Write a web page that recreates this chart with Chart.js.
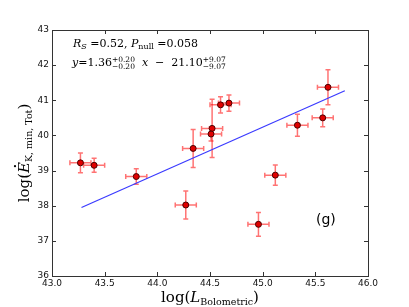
<!DOCTYPE html>
<html>
<head>
<meta charset="utf-8">
<script src="https://cdn.jsdelivr.net/npm/chart.js@4"></script>
<style>
  html, body { margin: 0; padding: 0; background: #fff; }
  #wrap { width: 409px; height: 307px; }
</style>
</head>
<body>
<div id="wrap"><canvas id="plot" width="409" height="307"></canvas></div>
<script>
// Data
const lBol  = [43.27, 43.40, 43.80, 44.27, 44.34, 44.52, 44.51, 44.60, 44.68, 44.96, 45.12, 45.33, 45.57, 45.62];
const eKin  = [39.22, 39.15, 38.83, 38.02, 39.63, 40.20, 40.04, 40.87, 40.92, 37.47, 38.87, 40.29, 40.50, 41.37];
const lErr  = [0.10, 0.10, 0.10, 0.10, 0.10, 0.10, 0.10, 0.10, 0.10, 0.10, 0.10, 0.10, 0.10, 0.10];
const eErr  = [0.28, 0.20, 0.22, 0.40, 0.54, 0.83, 0.20, 0.23, 0.23, 0.34, 0.29, 0.31, 0.25, 0.50];
const fitX  = [43.28, 45.78];
const fitY  = [37.95, 41.27];
const xTicks = [43.0, 43.5, 44.0, 44.5, 45.0, 45.5, 46.0];
const yTicks = [36, 37, 38, 39, 40, 41, 42, 43];

const SERIF = '"DejaVu Serif", serif';

// draws a run of mathtext-ish pieces starting at x, baseline y
function drawMath(ctx, parts, x, y) {
    parts.forEach(p => {
        if (p.stack) {
            ctx.font = p.f;
            ctx.fillText(p.sup, x, y + p.upDy);
            ctx.fillText(p.sub, x, y + p.dnDy);
            x += Math.max(ctx.measureText(p.sup).width, ctx.measureText(p.sub).width);
        } else {
            ctx.font = p.f;
            ctx.fillText(p.t, x, y + (p.dy || 0));
            if (p.dot) {
                const w = ctx.measureText(p.t).width;
                ctx.beginPath();
                ctx.arc(x + w * 0.62, y - 14, 1.1, 0, Math.PI * 2);
                ctx.fill();
            }
            x += ctx.measureText(p.t).width + (p.gap || 0);
        }
    });
    return x;
}
function mathWidth(ctx, parts) {
    let w = 0;
    parts.forEach(p => {
        ctx.font = p.f;
        if (p.stack) w += Math.max(ctx.measureText(p.sup).width, ctx.measureText(p.sub).width);
        else w += ctx.measureText(p.t).width + (p.gap || 0);
    });
    return w;
}

const extras = {
    id: 'extras',
    beforeDatasetsDraw(chart) {
        // error bars
        const ctx = chart.ctx;
        const xs = chart.scales.x, ys = chart.scales.y;
        ctx.save();
        ctx.strokeStyle = 'rgba(255,0,0,0.55)';
        ctx.lineWidth = 1.5;
        const cap = 2.5;
        lBol.forEach((lx, i) => {
            const px = xs.getPixelForValue(lx), py = ys.getPixelForValue(eKin[i]);
            const x0 = xs.getPixelForValue(lx - lErr[i]), x1 = xs.getPixelForValue(lx + lErr[i]);
            const y0 = ys.getPixelForValue(eKin[i] - eErr[i]), y1 = ys.getPixelForValue(eKin[i] + eErr[i]);
            ctx.beginPath();
            ctx.moveTo(x0, py); ctx.lineTo(x1, py);
            ctx.moveTo(px, y0); ctx.lineTo(px, y1);
            ctx.moveTo(x0, py - cap); ctx.lineTo(x0, py + cap);
            ctx.moveTo(x1, py - cap); ctx.lineTo(x1, py + cap);
            ctx.moveTo(px - cap, y0); ctx.lineTo(px + cap, y0);
            ctx.moveTo(px - cap, y1); ctx.lineTo(px + cap, y1);
            ctx.stroke();
        });
        ctx.restore();
    },
    afterDraw(chart) {
        const ctx = chart.ctx;
        const a = chart.chartArea;
        const xs = chart.scales.x, ys = chart.scales.y;
        ctx.save();
        // frame
        ctx.strokeStyle = '#333';
        ctx.lineWidth = 1;
        ctx.strokeRect(Math.round(a.left) + 0.5, Math.round(a.top) + 0.5,
                       Math.round(a.right - a.left), Math.round(a.bottom - a.top));
        // inward ticks on all four sides
        ctx.beginPath();
        xTicks.forEach(v => {
            const p = Math.round(xs.getPixelForValue(v)) + 0.5;
            ctx.moveTo(p, a.bottom); ctx.lineTo(p, a.bottom - 4);
            ctx.moveTo(p, a.top); ctx.lineTo(p, a.top + 4);
        });
        yTicks.forEach(v => {
            const p = Math.round(ys.getPixelForValue(v)) + 0.5;
            ctx.moveTo(a.left, p); ctx.lineTo(a.left + 4, p);
            ctx.moveTo(a.right, p); ctx.lineTo(a.right - 4, p);
        });
        ctx.stroke();

        ctx.fillStyle = '#000';
        ctx.textBaseline = 'alphabetic';
        ctx.textAlign = 'left';

        // x axis title
        const xt = [
            { t: 'log(', f: '15px ' + SERIF },
            { t: 'L', f: 'italic 15px ' + SERIF },
            { t: 'Bolometric', f: '9.5px ' + SERIF, dy: 3 },
            { t: ')', f: '15px ' + SERIF }
        ];
        const xw = mathWidth(ctx, xt);
        drawMath(ctx, xt, (a.left + a.right) / 2 - xw / 2, 302);

        // y axis title, rotated
        const yt = [
            { t: 'log(', f: '15px ' + SERIF },
            { t: 'E', f: 'italic 15px ' + SERIF, dot: true },
            { t: 'K, min, Tot', f: '9.5px ' + SERIF, dy: 3 },
            { t: ')', f: '15px ' + SERIF }
        ];
        const yw = mathWidth(ctx, yt);
        ctx.save();
        ctx.translate(29, (a.top + a.bottom) / 2);
        ctx.rotate(-Math.PI / 2);
        drawMath(ctx, yt, -yw / 2, 0);
        ctx.restore();

        // fit statistics
        const l1 = [
            { t: 'R', f: 'italic 11px ' + SERIF },
            { t: 'S', f: 'italic 8px ' + SERIF, dy: 2 },
            { t: ' =0.52, ', f: '11px ' + SERIF },
            { t: 'P', f: 'italic 11px ' + SERIF },
            { t: 'null', f: '8px ' + SERIF, dy: 2 },
            { t: ' =0.058', f: '11px ' + SERIF }
        ];
        drawMath(ctx, l1, 73, 47);
        const l2 = [
            { t: 'y', f: 'italic 11px ' + SERIF },
            { t: '=1.36', f: '11px ' + SERIF },
            { stack: true, sup: '+0.20', sub: '\u22120.20', f: '7.5px ' + SERIF, upDy: -4, dnDy: 3 },
            { t: '  x', f: 'italic 11px ' + SERIF },
            { t: '  \u2212  21.10', f: '11px ' + SERIF },
            { stack: true, sup: '+9.07', sub: '\u22129.07', f: '7.5px ' + SERIF, upDy: -4, dnDy: 3 }
        ];
        drawMath(ctx, l2, 72, 66);

        // panel tag
        ctx.font = '14px "DejaVu Sans", sans-serif';
        ctx.fillText('(g)', 316, 224);
        ctx.restore();
    }
};

const ctx = document.getElementById('plot').getContext('2d');
const chart = new Chart(ctx, {
    type: 'scatter',
    data: {
        datasets: [
            {
                type: 'line',
                data: fitX.map((x, i) => ({ x: x, y: fitY[i] })),
                borderColor: '#3a3aff',
                borderWidth: 1.2,
                pointRadius: 0,
                fill: false,
                order: 2
            },
            {
                data: lBol.map((x, i) => ({ x: x, y: eKin[i] })),
                backgroundColor: '#e00000',
                borderColor: '#4a0000',
                borderWidth: 1,
                pointRadius: 3,
                order: 1
            }
        ]
    },
    options: {
        responsive: false,
        animation: false,
        devicePixelRatio: 1,
        layout: { padding: { left: 0, top: 30, right: 41, bottom: 0 } },
        plugins: { legend: { display: false }, tooltip: { enabled: false } },
        scales: {
            x: {
                type: 'linear', min: 43, max: 46,
                afterFit: s => { s.height = 31; },
                afterBuildTicks: s => { s.ticks = xTicks.map(v => ({ value: v })); },
                grid: { display: false, drawTicks: false },
                border: { display: false },
                ticks: {
                    padding: 2,
                    color: '#111',
                    font: { family: '"DejaVu Sans", sans-serif', size: 9 },
                    callback: v => v.toFixed(1)
                }
            },
            y: {
                type: 'linear', min: 36, max: 43,
                afterFit: s => { s.width = 52; },
                afterBuildTicks: s => { s.ticks = yTicks.map(v => ({ value: v })); },
                grid: { display: false, drawTicks: false },
                border: { display: false },
                ticks: {
                    padding: 3,
                    color: '#111',
                    font: { family: '"DejaVu Sans", sans-serif', size: 9 },
                    callback: v => String(v)
                }
            }
        }
    },
    plugins: [extras]
});
</script>
</body>
</html>
